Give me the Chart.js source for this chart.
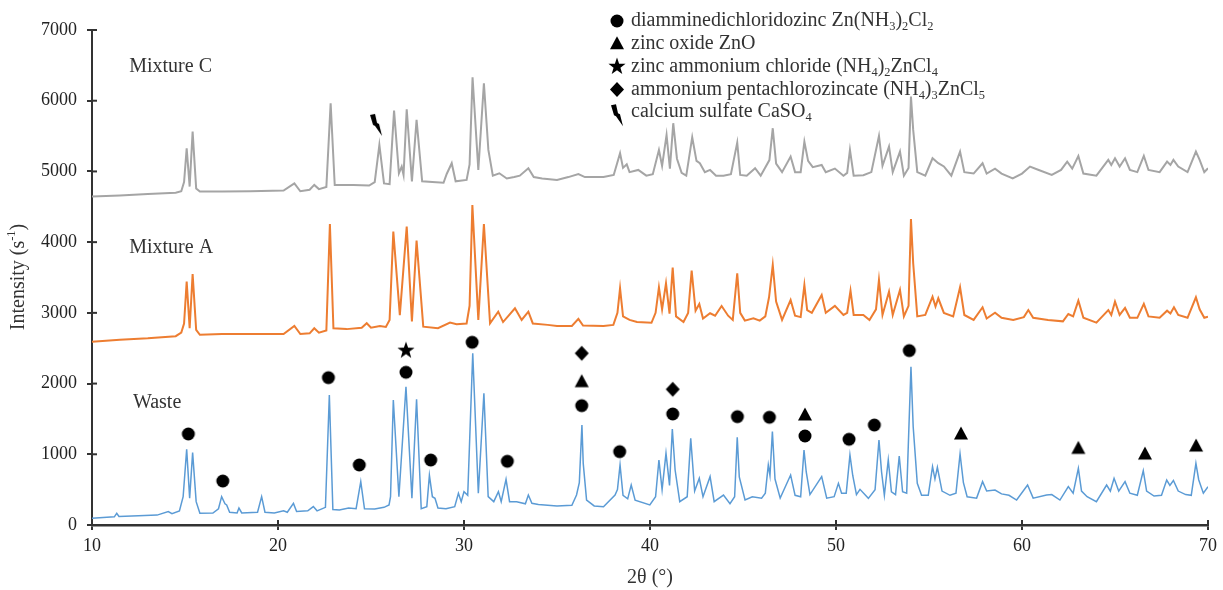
<!DOCTYPE html>
<html>
<head>
<meta charset="utf-8">
<script src="https://cdn.jsdelivr.net/npm/chart.js@4.4.0/dist/chart.umd.min.js"></script>
<style>
  html, body { margin: 0; padding: 0; background: #fff; }
</style>
</head>
<body>
<canvas id="xrdChart" width="1223" height="590"></canvas>
<script>
// [2θ (°), intensity (s-1)]
const waste = [
  [10.0, 95], [10.8, 110], [11.2, 115], [11.33, 165], [11.45, 120], [12.5, 130], [13.5, 140],
  [14.1, 190], [14.3, 160], [14.7, 200], [14.9, 400], [15.09, 1071], [15.25, 380], [15.41, 1023],
  [15.6, 330], [15.8, 165], [16.5, 170], [16.8, 230], [16.97, 401], [17.15, 300], [17.24, 283],
  [17.4, 180], [17.8, 170], [17.9, 240], [18.05, 170], [18.9, 180], [19.12, 401], [19.3, 180],
  [19.8, 170], [20.3, 200], [20.5, 180], [20.83, 306], [21.0, 190], [21.6, 200], [21.9, 260],
  [22.1, 200], [22.55, 250], [22.76, 1839], [22.95, 220], [23.3, 212], [23.8, 240], [24.2, 230],
  [24.45, 613], [24.65, 230], [25.2, 225], [25.7, 250], [25.97, 283], [26.05, 400], [26.2, 1768],
  [26.5, 400], [26.88, 1956], [27.2, 380], [27.45, 1778], [27.7, 230], [28.0, 260], [28.14, 703],
  [28.3, 400], [28.44, 378], [28.6, 240], [29.03, 230], [29.5, 260], [29.7, 448], [29.85, 330],
  [30.0, 472], [30.2, 420], [30.47, 2428], [30.77, 448], [31.07, 1862], [31.3, 401], [31.6, 330],
  [31.85, 472], [32.0, 330], [32.26, 646], [32.45, 330], [32.83, 330], [33.3, 300], [33.46, 424],
  [33.65, 306], [34.0, 290], [35.0, 269], [35.8, 280], [36.05, 424], [36.2, 600], [36.34, 1414],
  [36.41, 872], [36.59, 353], [37.0, 270], [37.5, 259], [38.12, 424], [38.25, 500], [38.39, 849],
  [38.55, 420], [38.8, 370], [38.99, 565], [39.2, 350], [39.99, 283], [40.3, 400], [40.48, 919],
  [40.65, 500], [40.86, 1014], [41.05, 560], [41.2, 1358], [41.35, 778], [41.6, 330], [42.0, 400],
  [42.19, 1226], [42.4, 480], [42.65, 660], [42.85, 400], [43.23, 684], [43.45, 330], [43.95, 424],
  [44.3, 300], [44.55, 400], [44.69, 1240], [44.8, 680], [45.11, 353], [45.5, 400], [46.0, 380],
  [46.2, 450], [46.36, 849], [46.45, 700], [46.58, 1320], [46.72, 650], [47.0, 380], [47.56, 707],
  [47.8, 420], [48.1, 400], [48.28, 1061], [48.4, 750], [48.6, 430], [49.23, 684], [49.5, 380],
  [49.9, 400], [50.13, 589], [50.3, 450], [50.55, 450], [50.75, 990], [50.9, 700], [51.1, 430],
  [51.29, 504], [51.74, 377], [52.1, 500], [52.31, 1202], [52.45, 750], [52.6, 420], [52.81, 919],
  [52.98, 470], [53.2, 430], [53.4, 976], [53.58, 470], [53.8, 450], [54.03, 2239], [54.15, 1390],
  [54.37, 590], [54.6, 420], [54.96, 420], [55.19, 825], [55.32, 650], [55.45, 815], [55.7, 480],
  [56.13, 420], [56.45, 450], [56.67, 1004], [56.85, 600], [57.05, 400], [57.56, 380], [57.88, 613],
  [58.1, 480], [58.55, 495], [58.9, 440], [59.3, 420], [59.71, 353], [60.3, 565], [60.6, 380],
  [61.32, 424], [61.6, 430], [62.04, 353], [62.49, 542], [62.75, 450], [63.03, 801], [63.2, 480],
  [63.5, 400], [64.0, 330], [64.55, 565], [64.75, 480], [64.95, 660], [65.2, 480], [65.54, 613],
  [65.8, 450], [66.2, 420], [66.52, 768], [66.7, 480], [67.1, 410], [67.5, 420], [67.78, 636],
  [67.95, 560], [68.14, 630], [68.4, 480], [68.8, 430], [69.1, 420], [69.35, 872], [69.5, 640],
  [69.75, 450], [70.0, 542]
];

const mixtureA = [
  [10.0, 2593], [11.5, 2620], [13.0, 2640], [14.5, 2670], [14.8, 2720], [14.95, 2850], [15.09, 3442],
  [15.25, 2782], [15.41, 3550], [15.6, 2760], [15.8, 2690], [17.0, 2700], [18.5, 2700], [20.3, 2700],
  [20.88, 2814], [21.2, 2700], [21.7, 2710], [21.95, 2782], [22.2, 2720], [22.6, 2750], [22.79, 4257],
  [22.98, 2782], [23.69, 2770], [24.5, 2790], [24.77, 2853], [25.0, 2790], [25.48, 2814], [25.8, 2800],
  [26.0, 2900], [26.2, 4149], [26.55, 2969], [26.92, 4219], [27.2, 2880], [27.45, 4022], [27.81, 2805],
  [28.6, 2782], [29.25, 2862], [29.6, 2840], [30.14, 2850], [30.3, 3100], [30.45, 4526], [30.77, 2900],
  [31.07, 4257], [31.4, 2853], [31.84, 3017], [32.1, 2870], [32.74, 3065], [33.1, 2900], [33.46, 3017],
  [33.7, 2850], [34.5, 2830], [35.0, 2814], [35.8, 2814], [36.15, 2914], [36.4, 2820], [37.5, 2815],
  [38.03, 2830], [38.25, 3000], [38.39, 3348], [38.55, 2950], [38.9, 2900], [39.3, 2870], [40.08, 2860],
  [40.3, 3000], [40.48, 3362], [40.65, 3050], [40.86, 3418], [41.05, 2990], [41.22, 3640], [41.4, 2950],
  [41.8, 2870], [42.05, 3000], [42.24, 3597], [42.45, 3030], [42.65, 3126], [42.85, 2920], [43.23, 2994],
  [43.5, 2960], [43.85, 3098], [44.2, 2960], [44.45, 2900], [44.69, 3560], [44.85, 3000], [45.1, 2890],
  [45.56, 2923], [45.9, 2890], [46.2, 2950], [46.4, 3220], [46.6, 3677], [46.78, 3160], [47.1, 2900],
  [47.56, 3182], [47.8, 2960], [48.1, 2940], [48.3, 3394], [48.45, 3040], [48.7, 3000], [49.23, 3253],
  [49.45, 3000], [49.94, 3098], [50.4, 2970], [50.6, 3000], [50.78, 3314], [50.95, 2970], [51.47, 2970],
  [51.8, 2900], [52.15, 3050], [52.31, 3465], [52.5, 2970], [52.85, 3300], [53.05, 2970], [53.44, 3324],
  [53.65, 2950], [53.9, 3100], [54.03, 4328], [54.15, 3701], [54.37, 2950], [54.8, 2970], [55.19, 3229],
  [55.35, 3090], [55.5, 3206], [55.8, 3000], [56.3, 2950], [56.67, 3362], [56.9, 2970], [57.4, 2900],
  [57.88, 3079], [58.1, 2920], [58.55, 3003], [58.9, 2930], [59.53, 2900], [60.1, 2940], [60.34, 3040],
  [60.6, 2930], [61.4, 2900], [62.2, 2880], [62.49, 2984], [62.75, 2950], [63.03, 3173], [63.3, 2930],
  [64.0, 2862], [64.64, 3040], [64.8, 2970], [65.0, 3159], [65.25, 2970], [65.54, 3069], [65.8, 2930],
  [66.2, 2930], [66.55, 3126], [66.8, 2950], [67.4, 2930], [67.8, 3031], [67.98, 2990], [68.17, 3079],
  [68.4, 2970], [68.9, 2930], [69.35, 3220], [69.55, 3050], [69.8, 2930], [70.0, 2946]
];

const mixtureC = [
  [10.0, 4644], [11.5, 4660], [13.0, 4680], [14.5, 4700], [14.8, 4720], [14.95, 4850], [15.09, 5328],
  [15.25, 4786], [15.41, 5563], [15.6, 4760], [15.8, 4715], [17.0, 4715], [18.5, 4720], [20.3, 4730],
  [20.88, 4832], [21.2, 4720], [21.7, 4740], [21.95, 4809], [22.2, 4750], [22.6, 4780], [22.83, 5964],
  [23.05, 4809], [24.05, 4809], [24.9, 4800], [25.2, 4850], [25.45, 5375], [25.7, 4830], [26.0, 4820],
  [26.24, 5860], [26.5, 4974], [26.65, 5069], [26.75, 4950], [26.92, 5880], [27.2, 4860], [27.45, 5728],
  [27.75, 4860], [28.3, 4850], [28.9, 4840], [29.07, 4964], [29.34, 5116], [29.55, 4860], [30.14, 4880],
  [30.3, 5100], [30.46, 6332], [30.77, 5021], [31.07, 6247], [31.31, 5304], [31.55, 4940], [31.9, 4974],
  [32.3, 4900], [32.7, 4920], [33.0, 4940], [33.46, 5045], [33.75, 4920], [34.2, 4900], [35.0, 4880],
  [35.61, 4920], [36.15, 4964], [36.5, 4920], [37.5, 4920], [38.05, 4950], [38.39, 5257], [38.55, 5050],
  [38.75, 5100], [38.9, 4990], [39.37, 5021], [39.8, 4940], [40.15, 4960], [40.48, 5304], [40.65, 5080],
  [40.89, 5516], [41.07, 5040], [41.25, 5682], [41.45, 5180], [41.7, 4980], [41.95, 4940], [42.27, 5484],
  [42.5, 5150], [42.68, 5116], [42.95, 4990], [43.23, 5021], [43.55, 4940], [43.95, 4940], [44.35, 4960],
  [44.69, 5408], [44.85, 4950], [45.2, 4940], [45.65, 5045], [45.95, 4940], [46.42, 5160], [46.6, 5611],
  [46.78, 5110], [47.1, 4990], [47.56, 5210], [47.8, 4990], [48.1, 4990], [48.3, 5422], [48.5, 5150],
  [48.75, 5060], [49.23, 5092], [49.45, 4990], [49.94, 5040], [50.4, 4940], [50.6, 4980], [50.75, 5304],
  [50.95, 4940], [51.47, 4946], [51.9, 4990], [52.31, 5502], [52.5, 5080], [52.85, 5351], [53.05, 4990],
  [53.44, 5280], [53.65, 4940], [53.9, 5050], [54.03, 6058], [54.15, 5587], [54.37, 4990], [54.8, 4940],
  [55.19, 5186], [55.5, 5116], [55.8, 5070], [56.2, 4940], [56.67, 5280], [56.9, 4990], [57.4, 4970],
  [57.88, 5116], [58.1, 4970], [58.55, 5040], [58.9, 4970], [59.5, 4900], [60.0, 4970], [60.43, 5069],
  [60.9, 5021], [61.6, 4950], [62.1, 5021], [62.43, 5139], [62.7, 5040], [63.03, 5219], [63.3, 4970],
  [64.0, 4940], [64.64, 5163], [64.8, 5092], [65.0, 5186], [65.25, 5069], [65.54, 5186], [65.8, 5021],
  [66.2, 4990], [66.55, 5219], [66.8, 5021], [67.4, 4990], [67.8, 5139], [67.98, 5092], [68.14, 5163],
  [68.4, 5069], [68.9, 4990], [69.35, 5280], [69.55, 5163], [69.8, 4990], [70.0, 5045]
];

// phase markers placed over the peaks
const markerX = [15.18, 17.03, 22.71, 24.37, 26.88, 26.88, 28.21, 30.44, 32.33, 36.33, 36.33, 36.33,
  38.37, 41.22, 41.22, 44.70, 46.42, 48.33, 48.33, 50.70, 52.06, 53.94, 56.72, 63.03, 66.61, 69.36, 25.27];
const markerY = [1287, 622, 2084, 849, 2466, 2160, 919, 2584, 901, 2428, 2027, 1688,
  1037, 1919, 1570, 1532, 1523, 1556, 1259, 1212, 1414, 2466, 1287, 1084, 1004, 1117, 5658];
const markerKind = ['dot', 'dot', 'dot', 'dot', 'star', 'dot', 'dot', 'dot', 'dot', 'diamond', 'triangle', 'dot',
  'dot', 'diamond', 'dot', 'dot', 'dot', 'triangle', 'dot', 'dot', 'dot', 'dot', 'triangle', 'triangle', 'triangle', 'triangle', 'bolt'];

const seriesNames = ['Mixture C', 'Mixture A', 'Waste'];
const seriesLabelX = [12.0, 12.0, 12.2];
const seriesLabelY = [6480, 3920, 1730];

// key text, 'sub' pieces are subscripts
const keyKinds = ['dot', 'triangle', 'star', 'diamond', 'bolt'];
const keyText = [
  [['diamminedichloridozinc Zn(NH'], ['3', 'sub'], [')'], ['2', 'sub'], ['Cl'], ['2', 'sub']],
  [['zinc oxide ZnO']],
  [['zinc ammonium chloride (NH'], ['4', 'sub'], [')'], ['2', 'sub'], ['ZnCl'], ['4', 'sub']],
  [['ammonium pentachlorozincate (NH'], ['4', 'sub'], [')'], ['3', 'sub'], ['ZnCl'], ['5', 'sub']],
  [['calcium sulfate CaSO'], ['4', 'sub']]
];

const SERIF = '"Liberation Serif", "Times New Roman", serif';

function drawSymbol(ctx, kind, cx, cy) {
  ctx.save();
  ctx.fillStyle = '#000';
  ctx.beginPath();
  if (kind === 'dot') {
    ctx.arc(cx, cy, 6.5, 0, Math.PI * 2);
  } else if (kind === 'triangle') {
    ctx.moveTo(cx, cy - 7.5);
    ctx.lineTo(cx + 7, cy + 5.5);
    ctx.lineTo(cx - 7, cy + 5.5);
  } else if (kind === 'diamond') {
    ctx.moveTo(cx, cy - 7.5);
    ctx.lineTo(cx + 7, cy);
    ctx.lineTo(cx, cy + 7.5);
    ctx.lineTo(cx - 7, cy);
  } else if (kind === 'star') {
    for (let i = 0; i < 10; i++) {
      const r = i % 2 === 0 ? 9 : 3.6;
      const a = -Math.PI / 2 + i * Math.PI / 5;
      const px = cx + r * Math.cos(a), py = cy + r * Math.sin(a);
      if (i === 0) ctx.moveTo(px, py); else ctx.lineTo(px, py);
    }
  } else if (kind === 'bolt') {
    ctx.moveTo(cx - 6, cy - 10);
    ctx.lineTo(cx - 1, cy - 11);
    ctx.lineTo(cx + 1, cy - 2);
    ctx.lineTo(cx + 3, cy - 1);
    ctx.lineTo(cx + 6, cy + 11);
    ctx.lineTo(cx - 1, cy + 1);
    ctx.lineTo(cx - 3, cy);
  }
  ctx.closePath();
  ctx.fill();
  ctx.restore();
}

function symbolImage(kind) {
  const c = document.createElement('canvas');
  c.width = 24; c.height = 26;
  drawSymbol(c.getContext('2d'), kind, 12, 13);
  return c;
}
const symbolImages = {};
keyKinds.forEach(k => { symbolImages[k] = symbolImage(k); });

function drawRich(ctx, x, y, parts, size) {
  let cx = x;
  parts.forEach(([t, mode]) => {
    const s = mode ? size * 0.62 : size;
    ctx.font = s + 'px ' + SERIF;
    const dy = mode === 'sub' ? size * 0.3 : mode === 'sup' ? -size * 0.35 : 0;
    ctx.fillText(t, cx, y + dy);
    cx += ctx.measureText(t).width;
  });
  return cx - x;
}

const innerTicks = {
  id: 'innerTicks',
  afterDraw(chart) {
    const { ctx, scales: { x, y } } = chart;
    ctx.save();
    ctx.strokeStyle = '#333';
    ctx.lineWidth = 2;
    x.ticks.forEach(t => {
      const px = x.getPixelForValue(t.value);
      ctx.beginPath(); ctx.moveTo(px, x.top); ctx.lineTo(px, x.top - 5); ctx.stroke();
    });
    y.ticks.forEach(t => {
      const py = y.getPixelForValue(t.value);
      ctx.beginPath(); ctx.moveTo(y.right, py); ctx.lineTo(y.right + 5, py); ctx.stroke();
    });
    ctx.restore();
  }
};

const textLayer = {
  id: 'textLayer',
  afterDraw(chart) {
    const { ctx, scales: { x, y } } = chart;
    ctx.save();
    ctx.fillStyle = '#333';
    ctx.textBaseline = 'middle';
    ctx.textAlign = 'left';
    // series names
    seriesNames.forEach((name, i) => {
      ctx.font = '20px ' + SERIF;
      ctx.fillText(name, x.getPixelForValue(seriesLabelX[i]), y.getPixelForValue(seriesLabelY[i]));
    });
    // phase key
    keyText.forEach((parts, i) => {
      const rowY = 21 + i * 22.8;
      drawSymbol(ctx, keyKinds[i], 617, rowY + (keyKinds[i] === 'bolt' ? 3 : 0));
      drawRich(ctx, 631, rowY, parts, 20);
    });
    // y axis title with superscript
    ctx.save();
    ctx.translate(19, 277);
    ctx.rotate(-Math.PI / 2);
    const parts = [['Intensity (s'], ['-1', 'sup'], [')']];
    let w = 0;
    parts.forEach(([t, mode]) => { ctx.font = (mode ? 12.4 : 20) + 'px ' + SERIF; w += ctx.measureText(t).width; });
    drawRich(ctx, -w / 2, 0, parts, 20);
    ctx.restore();
    ctx.restore();
  }
};

const toXY = arr => arr.map(([a, b]) => ({ x: a, y: b }));
const tickFont = { family: SERIF, size: 18 };

new Chart(document.getElementById('xrdChart'), {
  type: 'line',
  data: {
    datasets: [
      {
        label: 'phases',
        data: markerX.map((v, i) => ({ x: v, y: markerY[i] })),
        showLine: false,
        pointStyle: markerKind.map(k => symbolImages[k]),
        pointRadius: 7,
        order: 0
      },
      { label: 'Mixture C', data: toXY(mixtureC), borderColor: '#a5a5a5', borderWidth: 2, pointRadius: 0, order: 1 },
      { label: 'Mixture A', data: toXY(mixtureA), borderColor: '#ed7d31', borderWidth: 2, pointRadius: 0, order: 2 },
      { label: 'Waste', data: toXY(waste), borderColor: '#5b9bd5', borderWidth: 1.5, pointRadius: 0, order: 3 }
    ]
  },
  options: {
    responsive: false,
    animation: false,
    parsing: false,
    layout: { padding: { top: 30, right: 15, left: 0, bottom: 0 } },
    plugins: { legend: { display: false }, tooltip: { enabled: false } },
    scales: {
      x: {
        type: 'linear', min: 10, max: 70,
        ticks: { stepSize: 10, font: tickFont, color: '#222', padding: 5, callback: v => String(v) },
        grid: { drawOnChartArea: false, tickLength: 5, color: '#333', lineWidth: 2 },
        border: { color: '#333', width: 2.5 },
        title: { display: true, text: '2θ (°)', font: { family: SERIF, size: 20 }, color: '#333', padding: 0 },
        afterFit(s) { s.height = 65; }
      },
      y: {
        min: 0, max: 7000,
        ticks: { stepSize: 1000, font: tickFont, color: '#222', padding: 10, callback: v => String(v) },
        grid: { drawOnChartArea: false, tickLength: 5, color: '#333', lineWidth: 2 },
        border: { color: '#333', width: 2 },
        afterFit(s) { s.width = 92; }
      }
    }
  },
  plugins: [innerTicks, textLayer]
});
</script>
</body>
</html>
